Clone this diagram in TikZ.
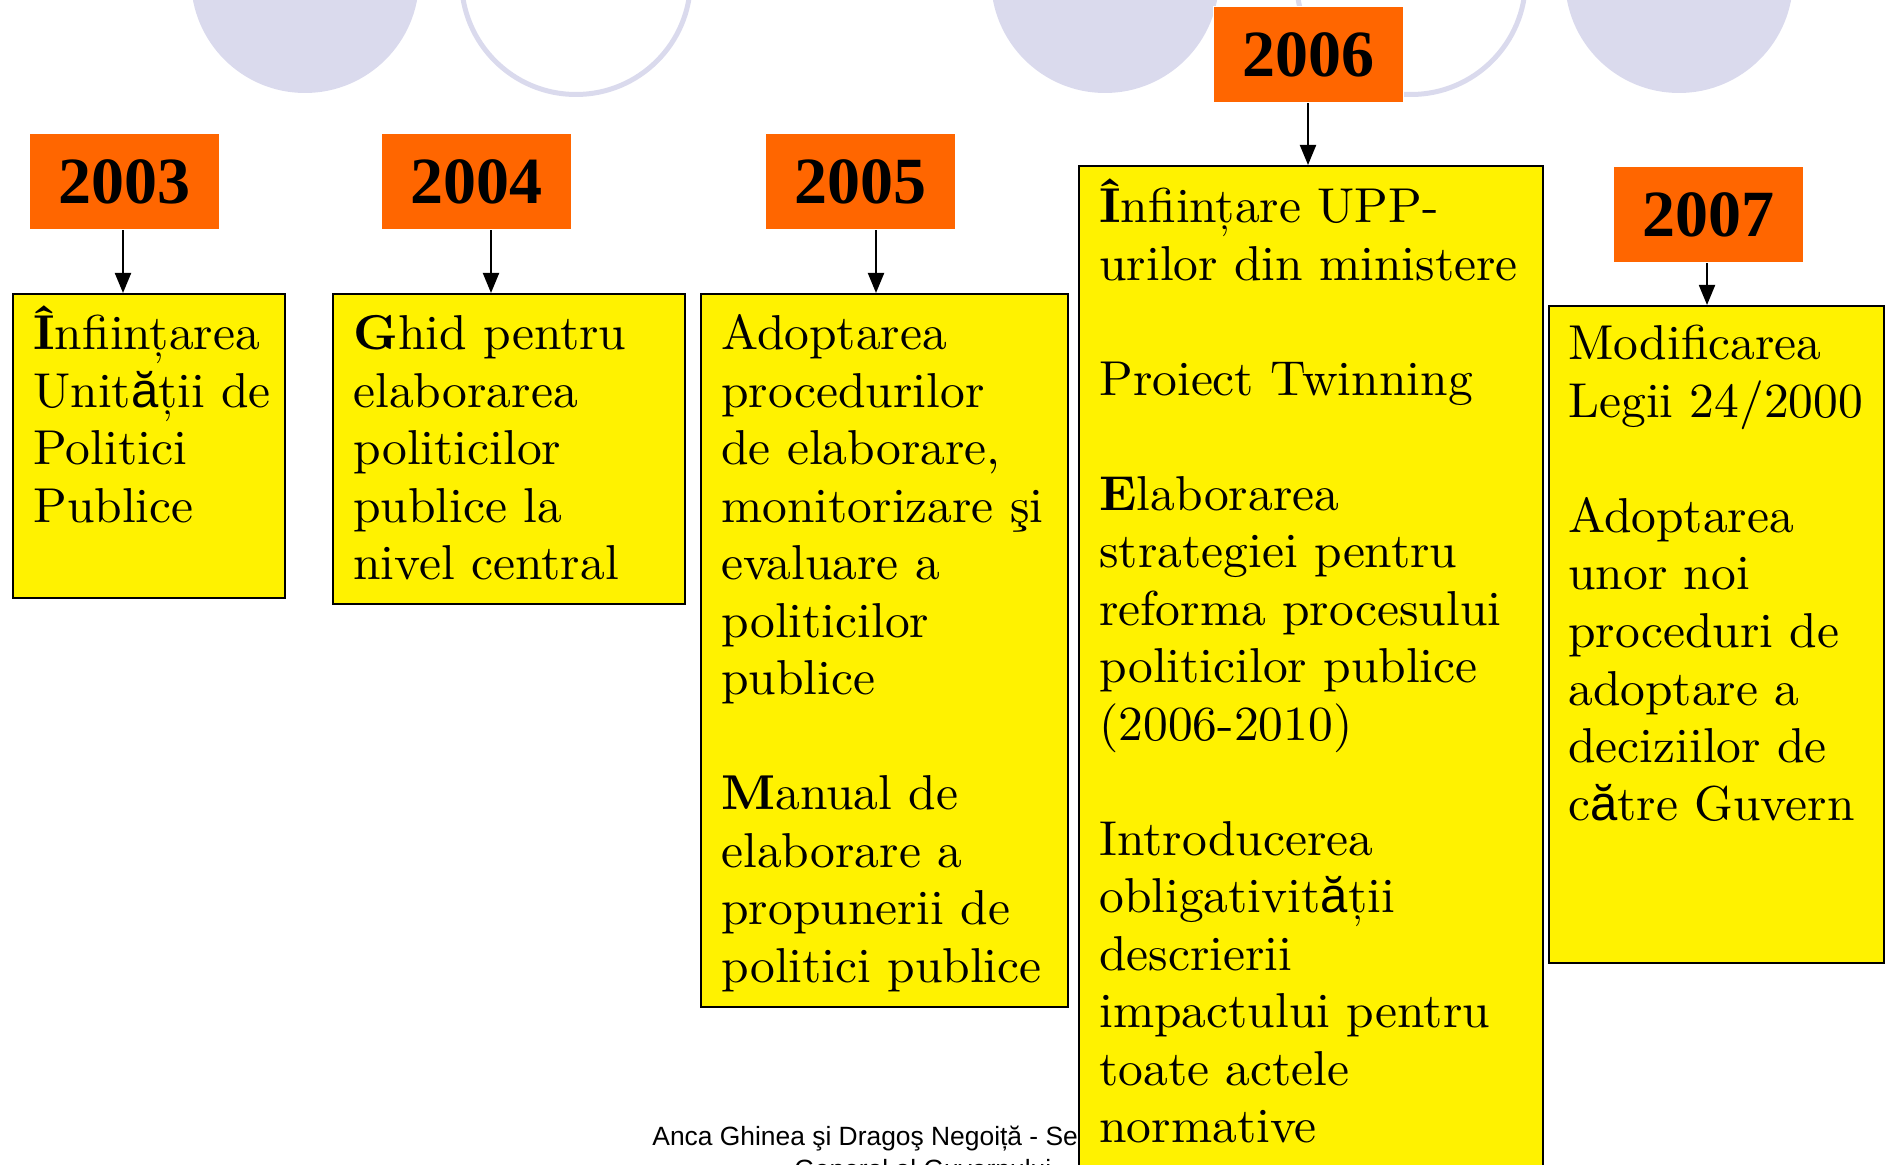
\documentclass[tikz,border=0pt]{standalone}
\usepackage{fontspec}
\usetikzlibrary{arrows.meta}
\newfontfamily\boxfont{lmroman10-regular.otf}[FakeStretch=1.01, BoldFont=lmroman10-bold.otf]
\newfontfamily\yearfont{Liberation Serif}
\newfontfamily\footfont{Liberation Sans}
\newcommand{\sa}{{\footfont ă}}
\definecolor{lavender}{RGB}{218,218,237}
\definecolor{tangerine}{RGB}{255,102,0}
\tikzset{yr/.style={fill=tangerine, draw=white, line width=0.5pt, minimum width=95pt, minimum height=48pt, inner sep=0pt, font=\yearfont\bfseries\fontsize{33}{33}\selectfont}}
\tikzset{ev/.style={draw, line width=1pt, fill=yellow, anchor=north west, inner sep=0pt}}
\tikzset{tx/.style={anchor=base west, inner sep=0pt, align=left, text width=300pt, font=\boxfont\fontsize{24.5}{28.75}\selectfont}}
\tikzset{ft/.style={anchor=base west, inner sep=0pt, font=\footfont\fontsize{13.2}{15}\selectfont}}
\tikzset{arr/.style={line width=1pt, -{Triangle[length=10pt,width=8pt]}}}

\begin{document}
\begin{tikzpicture}[x=0.5pt,y=-0.5pt]
        \useasboundingbox (0,0) rectangle (1893,1165);
        % background circles
        \fill[lavender] (305,-21) circle[radius=57pt];
        \draw[lavender, line width=2.5pt] (576,-20) circle[radius=57.25pt];
        \fill[lavender] (1105,-21) circle[radius=57pt];
        \draw[lavender, line width=2.5pt] (1411,-20) circle[radius=57.25pt];
        \fill[lavender] (1679,-21) circle[radius=57pt];
        % footer
        \node[ft] (foot1) at (652,1145) {Anca Ghinea şi Dragoş Negoiță - Se};
        \node[ft] (foot2) at (794,1178) {General al Guvernului};
        % years
        \node[yr] (y2003) at (124,182) {2003};
        \node[yr] (y2004) at (476,182) {2004};
        \node[yr] (y2005) at (860,182) {2005};
        \node[yr] (y2006) at (1308,55) {2006};
        \node[yr] (y2007) at (1708,215) {2007};
        % events
        \node[ev, minimum width=136pt, minimum height=152pt] (b2003) at (12,293) {};
        \node[ev, minimum width=176pt, minimum height=155pt] (b2004) at (332,293) {};
        \node[ev, minimum width=183.5pt, minimum height=356.5pt] (b2005) at (700,293) {};
        \node[ev, minimum width=232pt, minimum height=517.5pt] (b2006) at (1078,165) {};
        \node[ev, minimum width=167.5pt, minimum height=328.5pt] (b2007) at (1548,305) {};
        \node[tx] (t2003) at ([shift={(21,57)}]b2003.north west)
          {\textbf{Î}nființarea\\ Unit\sa ții de\\ Politici\\ Publice};
        \node[tx] (t2004) at ([shift={(21,57)}]b2004.north west)
          {\textbf{G}hid pentru\\ elaborarea\\ politicilor\\ publice la\\ nivel central};
        \node[tx] (t2005) at ([shift={(21,57)}]b2005.north west)
          {Adoptarea\\ procedurilor\\ de elaborare,\\ monitorizare şi\\ evaluare a\\ politicilor\\ publice\\[28.75pt]
           \textbf{M}anual de\\ elaborare a\\ propunerii de\\ politici publice};
        \node[tx] (t2006) at ([shift={(21,58)}]b2006.north west)
          {\textbf{Î}nființare UPP-\\ urilor din ministere\\[28.75pt]
           Proiect Twinning\\[28.75pt]
           \textbf{E}laborarea\\ strategiei pentru\\ reforma procesului\\ politicilor publice\\ (2006-2010)\\[28.75pt]
           Introducerea\\ obligativit\sa ții\\ descrierii\\ impactului pentru\\ toate actele\\ normative};
        \node[tx] (t2007) at ([shift={(20,55)}]b2007.north west)
          {Modificarea\\ Legii 24/2000\\[28.75pt]
           Adoptarea\\ unor noi\\ proceduri de\\ adoptare a\\ deciziilor de\\ c\sa tre Guvern};
        % arrows
        \draw[arr] ([xshift=-0.5pt]y2003.south) -- ([xshift=-0.5pt]y2003.south |- b2003.north);
        \draw[arr] ([xshift=7.5pt]y2004.south) -- ([xshift=7.5pt]y2004.south |- b2004.north);
        \draw[arr] ([xshift=8pt]y2005.south) -- ([xshift=8pt]y2005.south |- b2005.north);
        \draw[arr] (y2006.south) -- (y2006.south |- b2006.north);
        \draw[arr] ([xshift=-0.5pt]y2007.south) -- ([xshift=-0.5pt]y2007.south |- b2007.north);
\end{tikzpicture}
\end{document}
